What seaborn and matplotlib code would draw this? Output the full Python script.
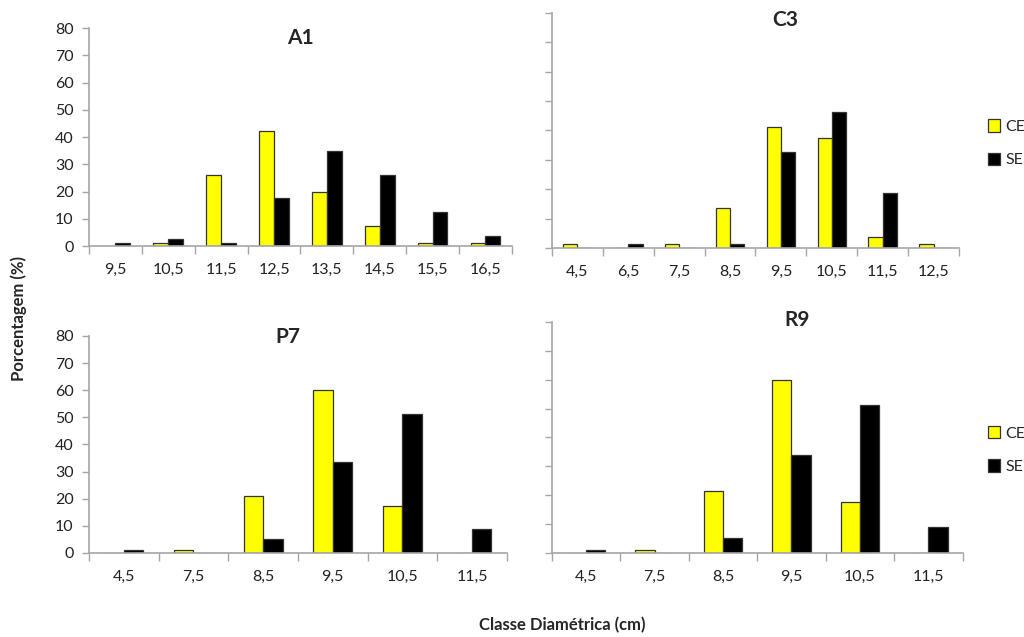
import numpy as np
import pandas as pd
import matplotlib
matplotlib.use('Agg')
import matplotlib.pyplot as plt
import seaborn as sns
from matplotlib.ticker import FixedLocator

# --- data ---
a1_classes = ['9,5', '10,5', '11,5', '12,5', '13,5', '14,5', '15,5', '16,5']
a1_ce = [0, 1.2, 26.2, 42.3, 19.9, 7.4, 1.2, 1.2]
a1_se = [1.2, 2.7, 1.2, 17.5, 34.9, 26.2, 12.6, 3.8]

c3_classes = ['4,5', '6,5', '7,5', '8,5', '9,5', '10,5', '11,5', '12,5']
c3_ce = [1.25, 0, 1.25, 13.5, 41.3, 37.4, 3.6, 1.25]
c3_se = [0, 1.25, 0, 1.25, 32.5, 46.3, 18.6, 0]

p7_classes = ['4,5', '7,5', '8,5', '9,5', '10,5', '11,5']
p7_ce = [0, 1.2, 21.1, 60.0, 17.3, 0]
p7_se = [1.2, 0, 5.0, 33.6, 51.3, 8.7]

r9_classes = ['4,5', '7,5', '8,5', '9,5', '10,5', '11,5']
r9_ce = [0, 1.2, 21.3, 59.8, 17.5, 0]
r9_se = [1.2, 0, 5.1, 33.8, 51.3, 8.9]

series = ['CE', 'SE']

sns.set_style('white')
plt.rcParams['font.family'] = ['Lato', 'DejaVu Sans']

fig = plt.figure(figsize=(10.24, 6.37), dpi=100)

# name, classes, CE, SE, axes rect, y labels?, legend y, title pos
panels = [
    ('A1', a1_classes, a1_ce, a1_se, [0.0869, 0.6138, 0.413, 0.342], True, None, (0.5, 0.954)),
    ('C3', c3_classes, c3_ce, c3_se, [0.539, 0.6107, 0.3975, 0.369], False, 0.775, (0.572, 0.97)),
    ('P7', p7_classes, p7_ce, p7_se, [0.0869, 0.1319, 0.408, 0.3407], True, None, (0.476, 0.995)),
    ('R9', r9_classes, r9_ce, r9_se, [0.539, 0.1319, 0.401, 0.3626], False, 0.294, (0.596, 1.009)),
]

grey = '#a6a6a6'
for name, classes, ce, se, rect, show_y, leg_y, tpos in panels:
    ax = fig.add_axes(rect)
    df = pd.DataFrame({
        'classe': classes * 2,
        'pct': ce + se,
        'serie': [series[0]] * len(classes) + [series[1]] * len(classes),
    })
    sns.barplot(data=df, x='classe', y='pct', hue='serie', order=classes,
                hue_order=series, palette=['#ffff00', '#000000'], saturation=1,
                width=0.56, edgecolor='#333333', linewidth=0.9, ax=ax,
                legend=leg_y is not None)
    n = len(classes)
    ax.set_xlim(-0.5, n - 0.5)
    ax.set_ylim(0, 80)
    ax.set_yticks(np.arange(0, 81, 10))
    ax.xaxis.set_minor_locator(FixedLocator(np.arange(-0.5, n, 1.0)))
    ax.tick_params(axis='x', which='major', length=0, pad=12, labelsize=11.5,
                   colors='#222222')
    ax.tick_params(axis='x', which='minor', length=6, width=1, color=grey,
                   direction='out', bottom=True)
    ax.tick_params(axis='y', length=5, width=1, color=grey, direction='out',
                   left=True, labelsize=11.5, labelcolor='#222222', pad=6)
    if not show_y:
        ax.tick_params(axis='y', labelleft=False)
    for side in ['top', 'right']:
        ax.spines[side].set_visible(False)
    for side in ['left', 'bottom']:
        ax.spines[side].set_color(grey)
        ax.spines[side].set_linewidth(1.2)
    ax.set_xlabel('')
    ax.set_ylabel('')
    ax.text(tpos[0], tpos[1], name, transform=ax.transAxes,
            ha='center', va='center', fontsize=15, fontweight='bold')
    if leg_y is not None:
        ax.legend(loc='center left', bbox_to_anchor=(0.965, leg_y),
                  bbox_transform=fig.transFigure, frameon=False,
                  borderaxespad=0, borderpad=0,
                  handlelength=0.75, handleheight=0.85, labelspacing=1.15,
                  handletextpad=0.35, fontsize=11.5)

fig.text(0.018, 0.5, 'Porcentagem (%)', rotation=90, ha='center', va='center',
         fontsize=12, fontweight='bold')
fig.text(0.549, 0.018, 'Classe Diamétrica (cm)', ha='center', va='center',
         fontsize=12, fontweight='bold')

fig.savefig('out.png', dpi=100)
